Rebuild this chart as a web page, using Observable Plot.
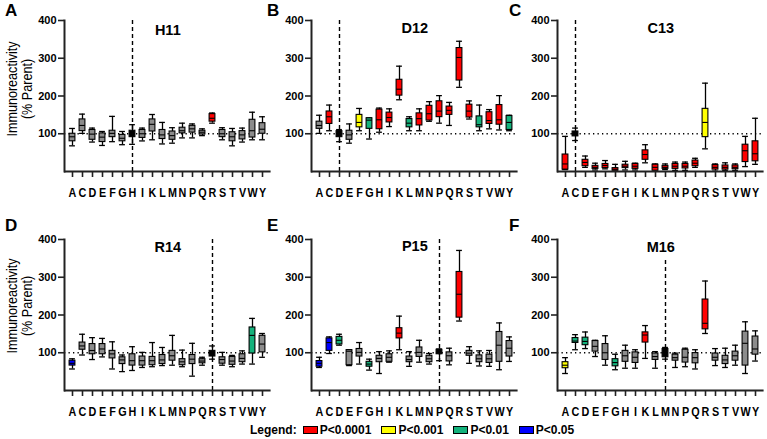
<!DOCTYPE html>
<html><head><meta charset="utf-8">
<script src="https://cdn.jsdelivr.net/npm/d3@7"></script>
<script src="https://cdn.jsdelivr.net/npm/@observablehq/plot@0.6"></script>
<style>
html,body{margin:0;padding:0;background:#fff;}
#root{position:relative;width:767px;height:439px;overflow:hidden;font-family:"Liberation Sans",Arial,sans-serif;color:#000;}
.panel{position:absolute;}
.letter{position:absolute;font-weight:bold;font-size:17px;line-height:17px;}
.ylab{position:absolute;width:200px;height:30px;text-align:center;font-size:14px;line-height:15px;transform:rotate(-90deg) scaleX(0.9);}
.legend{position:absolute;top:423px;left:250px;display:flex;align-items:center;font-weight:bold;font-size:12px;height:14px;white-space:nowrap;}
.sw{width:13px;height:6.5px;border:1.5px solid #000;}
</style></head><body><div id="root"></div>
<script>
// ---------- data ----------
const aminoAcids = ["A","C","D","E","F","G","H","I","K","L","M","N","P","Q","R","S","T","V","W","Y"];
const panelLetters = ["A","B","C","D","E","F"];
const panelTitles = ["H11","D12","C13","R14","P15","M16"];
const parentResidues = ["H","D","C","R","P","M"];
const dashTop = [400,400,400,400,400,350];
const yTicks = [100,200,300,400];
const referenceLevel = 100;
const legendLabels = ["P<0.0001","P<0.001","P<0.01","P<0.05"];
const yLabelLines = ["Immunoreactivity","(% Parent)"];

// [min, q1, median, q3, max] per amino acid, in aminoAcids order
const statsH11 = [[68,80,92,100,114],[101,107,122,138,152],[78,84,99,110,115],[69,78,91,101,106],[79,91,101,108,146],[71,80,88,97,106],[72,91,100,108,124],[81,89,100,110,115],[84,106,125,138,151],[73,86,97,110,130],[75,84,95,106,116],[89,101,108,116,128],[89,103,113,121,126],[95,98,104,108,113],[128,132,141,152,155],[84,91,100,110,116],[68,80,92,104,114],[78,85,97,107,115],[84,90,108,137,157],[84,100,112,128,145]];
const statsD12 = [[101,113,122,132,149],[108,126,145,159,176],[79,91,100,107,111],[75,84,97,108,126],[108,117,130,150,167],[86,113,136,141,142],[104,112,137,164,168],[119,130,143,156,166],[190,201,218,243,279],[108,117,128,139,145],[108,122,140,154,166],[133,135,153,174,185],[128,144,160,186,201],[122,150,162,172,183],[223,241,302,327,345],[139,143,160,177,187],[108,117,124,146,176],[113,126,135,157,164],[110,124,137,176,201],[108,110,130,147,149]];
const statsC13 = [[5,5,20,45,93],[82,93,100,106,115],[11,14,24,31,41],[4,7,11,15,22],[7,9,16,20,29],[1,2,6,9,19],[4,9,14,18,27],[4,7,14,20,22],[23,31,45,56,71],[1,2,11,18,20],[5,7,11,15,20],[3,7,14,20,25],[3,8,14,20,25],[11,14,22,29,35],[60,91,130,166,234],[1,5,11,17,20],[3,5,11,16,23],[3,6,11,16,20],[13,25,55,71,93],[19,27,47,80,141]];
const statsR14 = [[57,66,72,79,84],[94,108,118,127,149],[82,96,106,123,140],[89,96,110,123,138],[57,85,97,105,129],[50,70,81,88,94],[53,66,79,96,116],[61,66,79,90,101],[63,67,79,89,127],[66,70,81,94,114],[67,79,92,105,146],[63,67,76,83,107],[38,70,83,94,125],[67,72,78,83,88],[83,90,100,105,118],[67,71,82,88,101],[63,68,78,89,93],[70,75,85,96,105],[70,98,146,167,191],[88,101,123,145,151]];
const statsP15 = [[61,63,72,78,88],[98,105,127,138,142],[120,122,133,142,149],[66,67,104,107,108],[70,90,101,110,127],[54,63,70,76,83],[45,75,85,92,103],[75,76,88,96,105],[108,138,152,165,197],[64,75,82,90,103],[75,89,101,114,133],[70,75,84,92,98],[79,96,102,108,110],[68,77,92,101,112],[184,193,255,314,371],[72,92,99,105,116],[65,75,84,93,105],[64,73,84,95,106],[55,76,120,155,179],[77,90,112,131,142]];
const statsM16 = [[45,59,67,75,87],[108,126,131,139,148],[111,120,130,140,155],[90,103,117,131,133],[67,81,100,123,145],[55,64,74,83,96],[59,76,92,105,120],[59,73,88,101,108],[85,127,147,154,172],[59,81,90,98,103],[83,88,100,110,114],[61,79,87,95,99],[63,74,88,108,112],[57,72,87,99,108],[151,162,178,241,290],[66,79,88,98,111],[61,70,81,92,112],[67,79,92,103,120],[45,66,125,156,182],[78,95,110,143,158]];

// significance per amino acid: "ns", "parent" or a legend label
const sigH11 = ["ns","ns","ns","ns","ns","ns","parent","ns","ns","ns","ns","ns","ns","ns","P<0.0001","ns","ns","ns","ns","ns"];
const sigD12 = ["ns","P<0.0001","parent","ns","P<0.001","P<0.01","P<0.0001","P<0.0001","P<0.0001","P<0.01","P<0.0001","P<0.0001","P<0.0001","P<0.0001","P<0.0001","P<0.0001","P<0.01","P<0.0001","P<0.0001","P<0.01"];
const sigC13 = ["P<0.0001","parent","P<0.0001","P<0.0001","P<0.0001","P<0.0001","P<0.0001","P<0.0001","P<0.0001","P<0.0001","P<0.0001","P<0.0001","P<0.0001","P<0.0001","P<0.001","P<0.0001","P<0.0001","P<0.0001","P<0.0001","P<0.0001"];
const sigR14 = ["P<0.05","ns","ns","ns","ns","ns","ns","ns","ns","ns","ns","ns","ns","ns","parent","ns","ns","ns","P<0.01","ns"];
const sigP15 = ["P<0.05","P<0.05","P<0.01","ns","ns","P<0.01","ns","ns","P<0.0001","ns","ns","ns","parent","ns","P<0.0001","ns","ns","ns","ns","ns"];
const sigM16 = ["P<0.001","P<0.01","P<0.01","ns","ns","P<0.01","ns","ns","P<0.0001","ns","parent","ns","ns","ns","P<0.0001","ns","ns","ns","ns","ns"];

const panelStats = [statsH11, statsD12, statsC13, statsR14, statsP15, statsM16];
const panelSig = [sigH11, sigD12, sigC13, sigR14, sigP15, sigM16];

// ---------- styling / layout ----------
const colorDomain = [...legendLabels, "ns", "parent"];
const colorRange = ["#ff0000", "#ffff00", "#14b27c", "#0000ff", "#8c8c8c", "#000000"];
const colAxisX = [64, 311, 557];
const rowTop = [0, 218.5];
const titleDy = [10, 7.5, 7.5, 8, 7, 7.5];
const ML = 60, STEP = 10.33, INNER = STEP * 20, W = 285, H = 200, MT = 20, MB = 29;
const FH = H - MT - MB;
const ink = "#222";
const root = document.getElementById("root");

panelTitles.forEach((title, k) => {
  const col = k % 3, row = Math.floor(k / 3);
  const rows = aminoAcids.map((aa, i) => {
    const s = panelStats[k][i];
    return {aa, min: s[0], q1: s[1], med: s[2], q3: s[3], max: s[4], sig: panelSig[k][i]};
  });
  const ins = 2.1;
  const svg = Plot.plot({
    width: W, height: H,
    marginLeft: ML, marginRight: W - ML - INNER, marginTop: MT, marginBottom: MB,
    style: {background: "transparent", overflow: "visible", fontFamily: "'Liberation Sans', Arial, sans-serif"},
    x: {type: "band", domain: aminoAcids, padding: 0, axis: null},
    y: {domain: [0, 400], axis: null},
    color: {domain: colorDomain, range: colorRange},
    marks: [
      Plot.ruleY([referenceLevel], {stroke: "#000", strokeWidth: 1.3, strokeDasharray: "1.3,3.2"}),
      Plot.ruleX([parentResidues[k]], {x: d => d, y1: 0, y2: dashTop[k], stroke: "#000", strokeWidth: 1.4, strokeDasharray: "4,3"}),
      Plot.ruleX(rows, {x: "aa", y1: "min", y2: "max", stroke: "#000", strokeWidth: 1.3}),
      Plot.tickY(rows, {x: "aa", y: "min", insetLeft: ins, insetRight: ins, stroke: "#000", strokeWidth: 1.3}),
      Plot.tickY(rows, {x: "aa", y: "max", insetLeft: ins, insetRight: ins, stroke: "#000", strokeWidth: 1.3}),
      Plot.barY(rows, {x: "aa", y1: "q1", y2: "q3", fill: "sig", stroke: "#000", strokeWidth: 1.1, insetLeft: ins, insetRight: ins}),
      Plot.tickY(rows, {x: "aa", y: "med", insetLeft: ins, insetRight: ins, stroke: "#000", strokeWidth: 1.1}),
      // x-axis tick marks below the baseline
      Plot.ruleX(aminoAcids, {x: d => d, insetTop: FH, insetBottom: -6, stroke: ink, strokeWidth: 1.6}),
      Plot.ruleY([0], {stroke: ink, strokeWidth: 2}),
      Plot.frame({anchor: "left", stroke: ink, strokeWidth: 2}),
      Plot.axisY({ticks: yTicks, tickSize: 6, tickPadding: 2, fontSize: 11, fontWeight: "bold", label: null, stroke: ink, strokeWidth: 1.6}),
      Plot.axisX({tickSize: 0, tickPadding: 16, fontSize: 13.5, fontWeight: "bold", label: null}),
      Plot.text([title], {frameAnchor: "top", lineAnchor: "middle", dy: titleDy[k], fontSize: 14.5, fontWeight: "bold"})
    ]
  });
  // condense the x tick letters horizontally
  svg.querySelectorAll('g[aria-label="x-axis tick label"] text').forEach(t => {
    const tr = t.getAttribute("transform") || "";
    t.setAttribute("transform", tr + " scale(0.8,1)");
  });
  svg.classList.add("panel");
  svg.style.left = (colAxisX[col] - ML) + "px";
  svg.style.top = rowTop[row] + "px";
  root.appendChild(svg);

  const L = document.createElement("div");
  L.className = "letter";
  L.textContent = panelLetters[k];
  L.style.left = [5, 267, 509][col] + "px";
  L.style.top = [2, 217][row] + "px";
  root.appendChild(L);
});

[89, 306].forEach(cy => {
  const d = document.createElement("div");
  d.className = "ylab";
  d.innerHTML = yLabelLines.join("<br>");
  d.style.left = (20 - 100) + "px";
  d.style.top = (cy - 15) + "px";
  root.appendChild(d);
});

const leg = document.createElement("div");
leg.className = "legend";
const t0 = document.createElement("span");
t0.textContent = "Legend:";
leg.appendChild(t0);
legendLabels.forEach((lab, i) => {
  const sw = document.createElement("span");
  sw.className = "sw";
  sw.style.background = colorRange[i];
  sw.style.marginLeft = (i === 0 ? 6 : 10) + "px";
  leg.appendChild(sw);
  const t = document.createElement("span");
  t.textContent = lab;
  t.style.marginLeft = "2px";
  leg.appendChild(t);
});
root.appendChild(leg);
</script></body></html>
